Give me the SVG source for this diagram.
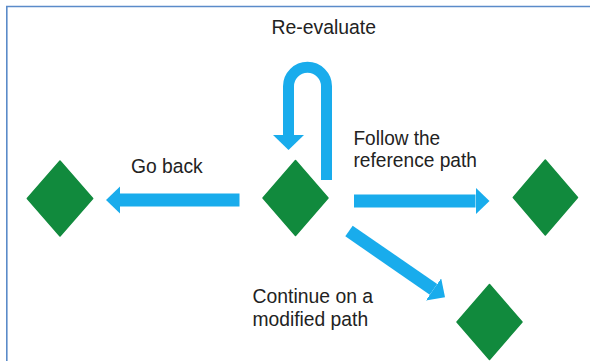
<svg xmlns="http://www.w3.org/2000/svg" width="590" height="361" viewBox="0 0 590 361">
  <defs>
    <style>
      .frame { fill: none; stroke: #5b8bc9; stroke-width: 1.6; }
      .node { fill: #118a3d; stroke: #118a3d; stroke-width: 1.5; stroke-linejoin: round; }
      .conn { fill: none; stroke: #19acec; stroke-linecap: butt; stroke-linejoin: round; }
      .lbl { font-family: "Liberation Sans", Arial, sans-serif; font-size: 20.5px; fill: #222222; }
    </style>
    <marker id="head" markerUnits="userSpaceOnUse" markerWidth="16" markerHeight="28" refX="0" refY="13.5" orient="auto">
      <path d="M0,0 L14,13.5 L0,27 Z" fill="#19acec"/>
    </marker>
    <marker id="headU" markerUnits="userSpaceOnUse" markerWidth="17" markerHeight="32" refX="0" refY="15.5" orient="auto">
      <path d="M0,0 L15,15.5 L0,31 Z" fill="#19acec"/>
    </marker>
  </defs>

  <rect width="590" height="361" fill="#ffffff"/>
  <path class="frame" d="M6.8,361 V6.5 H590"/>

  <g id="connectors">
    <path id="reevaluate" class="conn" stroke-width="11" d="M326.5,180 V86.2 A19,19 0 0 0 288.5,86.2 V135" marker-end="url(#headU)"/>
    <line id="goback" class="conn" stroke-width="13" x1="239.5" y1="200" x2="120" y2="200" marker-end="url(#head)"/>
    <line id="follow" class="conn" stroke-width="13" x1="354" y1="201" x2="475.5" y2="201" marker-end="url(#head)"/>
    <line id="modified" class="conn" stroke-width="13" x1="349" y1="231" x2="433.5" y2="289.4" marker-end="url(#head)"/>
  </g>

  <g id="node-left">
    <polygon class="node" points="60,161 92.7,198.5 60,236 27.3,198.5"/>
  </g>
  <g id="node-center">
    <polygon class="node" points="295.5,160.5 328,198 295.5,235.5 263,198"/>
  </g>
  <g id="node-right">
    <polygon class="node" points="545.3,160 577.5,197.5 545.3,235 513.3,197.5"/>
  </g>
  <g id="node-bottom">
    <polygon class="node" points="489.5,284.5 522,322 489.5,359.5 457,322"/>
  </g>

  <g id="labels">
    <text class="lbl" x="271.5" y="34" textLength="104.5" lengthAdjust="spacingAndGlyphs">Re-evaluate</text>
    <text class="lbl" x="131" y="172.5" textLength="71.7" lengthAdjust="spacingAndGlyphs">Go back</text>
    <text class="lbl" x="353.5" y="145" textLength="86.7" lengthAdjust="spacingAndGlyphs">Follow the</text>
    <text class="lbl" x="353.5" y="166.5" textLength="123.4" lengthAdjust="spacingAndGlyphs">reference path</text>
    <text class="lbl" x="252.5" y="302.5" textLength="120.6" lengthAdjust="spacingAndGlyphs">Continue on a</text>
    <text class="lbl" x="252.5" y="326" textLength="115.6" lengthAdjust="spacingAndGlyphs">modified path</text>
  </g>
</svg>
